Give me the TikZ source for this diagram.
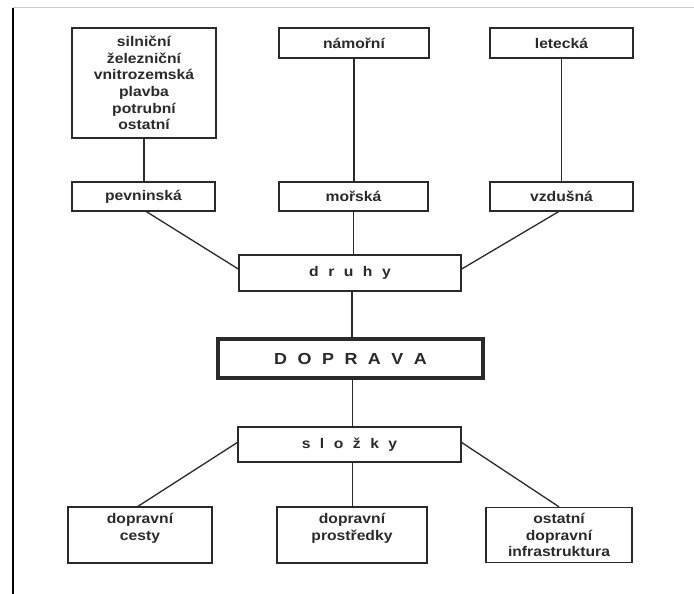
\documentclass[tikz,border=0pt]{standalone}
\usepackage{fontspec}
\newfontfamily\diagfont[FakeStretch=1.12]{Liberation Sans}
\definecolor{ink}{HTML}{2A2A2A}
\newcommand\lgap{\hspace{9.5pt}}
\newcommand\bgap{\hspace{10.5pt}}
\begin{document}
\begin{tikzpicture}[x=1pt,y=-1pt,
  box/.style={draw=ink, line width=1.4pt, rectangle, inner sep=0pt, align=center,
    text=ink, font=\diagfont\bfseries\fontsize{14}{16.7}\selectfont},
  mainbox/.style={box, line width=4pt, font=\diagfont\bfseries\fontsize{16}{18}\selectfont},
  link/.style={draw=ink, line width=1.3pt}]
\fill[white] (0,0) rectangle (694,594);
\useasboundingbox (0,0) rectangle (694,594);
\draw[gray!40, line width=1pt] (13,8) -- (694,8);
\draw[black, line width=1.5pt] (13,8) -- (13,594);

\node[box, minimum width=144pt, minimum height=110pt] (tl) at (144,83)
  {silniční\\železniční\\vnitrozemská\\plavba\\potrubní\\ostatní};
\node[box, minimum width=150pt, minimum height=30pt] (nam) at (354,43) {námořní};
\node[box, minimum width=143pt, minimum height=30pt] (let) at (561.5,43) {letecká};

\node[box, minimum width=143pt, minimum height=29pt] (pev) at (143.5,196.5) {pevninská};
\node[box, minimum width=149pt, minimum height=29pt] (mor) at (353.5,196.5) {mořská};
\node[box, minimum width=143pt, minimum height=29pt] (vzd) at (561.5,196.5) {vzdušná};

\node[box, minimum width=222pt, minimum height=36pt] (dru) at (350,273)
  {d\lgap r\lgap u\lgap h\lgap y};
\node[mainbox, minimum width=265pt, minimum height=39pt] (dop) at (350.5,358.5)
  {D\bgap O\bgap P\bgap R\bgap A\bgap V\bgap A};
\node[box, minimum width=223pt, minimum height=35pt] (slo) at (349.5,444.5)
  {s\lgap l\lgap o\lgap ž\lgap k\lgap y};

\node[box, minimum width=144pt, minimum height=56pt] (ces) at (140,535)
  {dopravní\\cesty\\\mbox{}};
\node[box, minimum width=150pt, minimum height=56pt] (pro) at (352,535)
  {dopravní\\prostředky\\\mbox{}};
\node[box, minimum width=146pt, minimum height=55pt] (inf) at (559,535)
  {ostatní\\dopravní\\infrastruktura};

\draw[link] (tl.south) -- (tl.south |- pev.north);
\draw[link] (nam.south) -- (nam.south |- mor.north);
\draw[link] (let.south) -- (let.south |- vzd.north);

\draw[link] ([xshift=3pt]pev.south) -- ([yshift=4pt]dru.west);
\draw[link] (mor.south) -- (mor.south |- dru.north);
\draw[link] ([xshift=-3pt]vzd.south) -- ([yshift=4pt]dru.east);

\draw[link] ([xshift=2pt]dru.south) -- ([xshift=2pt]dru.south |- dop.north);
\draw[link] ([xshift=2pt]dop.south) -- ([xshift=2pt]dop.south |- slo.north);

\draw[link] ([yshift=2pt]slo.west) -- ([xshift=-2pt]ces.north);
\draw[link] ([xshift=3pt]slo.south) -- ([xshift=3pt]slo.south |- pro.north);
\draw[link] ([yshift=2pt]slo.east) -- (inf.north);
\end{tikzpicture}
\end{document}
